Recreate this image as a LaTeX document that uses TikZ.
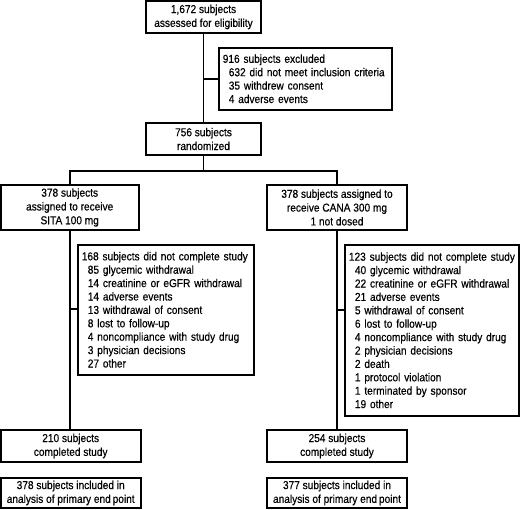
\documentclass[tikz,border=0pt]{standalone}
\usepackage{fontspec}
\setmainfont{Liberation Sans}[FakeStretch=0.88,FakeBold=0.4]
\begin{document}
\begin{tikzpicture}[x=1pt,y=-1pt,
  box/.style={draw=black,line width=1.6pt,inner sep=0pt,align=center,font=\fontsize{11.5}{13.8}\selectfont},
  lbox/.style={draw=black,line width=1.6pt,inner xsep=4pt,inner ysep=0pt,align=left,anchor=north west,font=\fontsize{11.5}{13.4}\selectfont},
  link/.style={draw=black,line width=1.6pt}]
\useasboundingbox (0,0) rectangle (520,510);
\fill[white] (0,0) rectangle (520,510);
% boxes (center, size)
\node[box,minimum width=115,minimum height=32] (top) at (203.5,17) {1,672 subjects\\assessed for eligibility};
\node[lbox,minimum width=173,minimum height=62,text width=165] (excl) at (218,47) {916 subjects excluded\\
\hspace*{6pt}632 did not meet inclusion criteria\\
\hspace*{6pt}35 withdrew consent\\
\hspace*{6pt}4 adverse events};
\node[box,minimum width=115,minimum height=32] (rand) at (203.5,139) {756 subjects\\randomized};
\node[box,minimum width=138,minimum height=45] (sita) at (69.7,207.5) {378 subjects\\assigned to receive\\SITA 100 mg};
\node[box,minimum width=140,minimum height=45] (cana) at (337,207.5) {378 subjects assigned to\\receive CANA 300 mg\\1 not dosed};
\node[lbox,minimum width=176,minimum height=130,text width=168] (dl) at (77,244) {168 subjects did not complete study\\
\hspace*{6pt}85 glycemic withdrawal\\
\hspace*{6pt}14 creatinine or eGFR withdrawal\\
\hspace*{6pt}14 adverse events\\
\hspace*{6pt}13 withdrawal of consent\\
\hspace*{6pt}8 lost to follow-up\\
\hspace*{6pt}4 noncompliance with study drug\\
\hspace*{6pt}3 physician decisions\\
\hspace*{6pt}27 other};
\node[lbox,minimum width=174.3,minimum height=171,text width=166] (dr) at (344,244) {123 subjects did not complete study\\
\hspace*{6pt}40 glycemic withdrawal\\
\hspace*{6pt}22 creatinine or eGFR withdrawal\\
\hspace*{6pt}21 adverse events\\
\hspace*{6pt}5 withdrawal of consent\\
\hspace*{6pt}6 lost to follow-up\\
\hspace*{6pt}4 noncompliance with study drug\\
\hspace*{6pt}2 physician decisions\\
\hspace*{6pt}2 death\\
\hspace*{6pt}1 protocol violation\\
\hspace*{6pt}1 terminated by sponsor\\
\hspace*{6pt}19 other};
\node[box,minimum width=140,minimum height=32] (cl) at (70.7,446) {210 subjects\\completed study};
\node[box,minimum width=140,minimum height=32] (cr) at (337,446) {254 subjects\\completed study};
\node[box,minimum width=140,minimum height=30] (al) at (70.7,493) {378 subjects included in\\analysis of primary end\,point};
\node[box,minimum width=140,minimum height=30] (ar) at (337,493) {377 subjects included in\\analysis of primary end\,point};
% connectors
\draw[link] (top.south) -- (rand.north);
\coordinate (j1) at (203.5,79);
\draw[link] (j1) -- (excl.west |- j1);
\coordinate (j2) at (203.5,171);
\draw[link] (rand.south) -- (j2);
\draw[link] (sita.north) |- (j2) -| (cana.north);
\draw[link] (sita.south) -- (sita.south |- cl.north);
\draw[link] (cana.south) -- (cana.south |- cr.north);
\coordinate (jl) at (69.7,309);
\coordinate (jr) at (337,310);
\draw[link] (jl) -- (dl.west |- jl);
\draw[link] (jr) -- (dr.west |- jr);
\end{tikzpicture}
\end{document}
